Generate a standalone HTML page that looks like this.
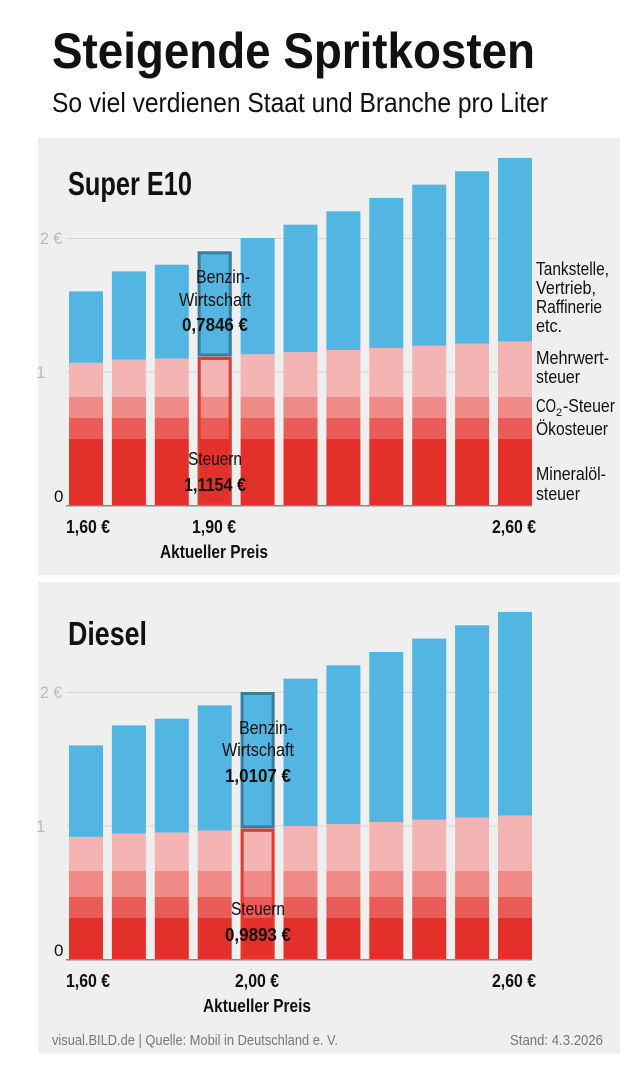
<!DOCTYPE html>
<html><head><meta charset="utf-8"><style>
html,body{margin:0;padding:0;background:#fff}
svg{display:block}
text{font-family:"Liberation Sans Narrow","Liberation Sans",sans-serif}
</style></head><body>
<svg id="s" width="639" height="1073" viewBox="0 0 639 1073" xmlns="http://www.w3.org/2000/svg">
<rect x="0" y="0" width="639" height="1073" fill="#fff"/>
<text x="52" y="68" font-size="50" font-weight="bold" textLength="483" lengthAdjust="spacingAndGlyphs" fill="#111">Steigende Spritkosten</text>
<text x="52" y="112" font-size="28" textLength="496" lengthAdjust="spacingAndGlyphs" fill="#111">So viel verdienen Staat und Branche pro Liter</text>
<rect x="38" y="138" width="582" height="437" fill="#efefef"/>
<rect x="38" y="582" width="582" height="471" fill="#efefef"/>
<g id="g1"></g><g id="g2"></g>
<text x="68" y="195" font-size="33" font-weight="bold" textLength="124" lengthAdjust="spacingAndGlyphs" fill="#111">Super E10</text>
<text x="68" y="645" font-size="33" font-weight="bold" textLength="79" lengthAdjust="spacingAndGlyphs" fill="#111">Diesel</text>
<g font-size="17" fill="#bbb">
<text x="40" y="244" textLength="22" lengthAdjust="spacingAndGlyphs">2 €</text>
<text x="36" y="378">1</text>
<text x="40" y="698" textLength="22" lengthAdjust="spacingAndGlyphs">2 €</text>
<text x="36" y="832">1</text>
</g>
<g font-size="17" fill="#111">
<text x="54" y="502">0</text>
<text x="54" y="956">0</text>
</g>
<g font-size="18" fill="#111" font-weight="bold" text-anchor="middle">
<text x="88" y="533" textLength="44" lengthAdjust="spacingAndGlyphs">1,60 €</text>
<text x="214" y="533" textLength="44" lengthAdjust="spacingAndGlyphs">1,90 €</text>
<text x="214" y="558" textLength="108" lengthAdjust="spacingAndGlyphs">Aktueller Preis</text>
<text x="514" y="533" textLength="44" lengthAdjust="spacingAndGlyphs">2,60 €</text>
<text x="88" y="987" textLength="44" lengthAdjust="spacingAndGlyphs">1,60 €</text>
<text x="257" y="987" textLength="44" lengthAdjust="spacingAndGlyphs">2,00 €</text>
<text x="257" y="1012" textLength="108" lengthAdjust="spacingAndGlyphs">Aktueller Preis</text>
<text x="514" y="987" textLength="44" lengthAdjust="spacingAndGlyphs">2,60 €</text>
</g>
<g font-size="18" fill="#111">
<text x="536" y="275" textLength="73" lengthAdjust="spacingAndGlyphs">Tankstelle,</text>
<text x="536" y="294" textLength="60" lengthAdjust="spacingAndGlyphs">Vertrieb,</text>
<text x="536" y="313" textLength="66" lengthAdjust="spacingAndGlyphs">Raffinerie</text>
<text x="536" y="332" textLength="26" lengthAdjust="spacingAndGlyphs">etc.</text>
<text x="536" y="364" textLength="73" lengthAdjust="spacingAndGlyphs">Mehrwert-</text>
<text x="536" y="383" textLength="44" lengthAdjust="spacingAndGlyphs">steuer</text>
<text x="536" y="412" textLength="20" lengthAdjust="spacingAndGlyphs">CO</text>
<text x="556" y="416" font-size="11">2</text>
<text x="563" y="412" textLength="52" lengthAdjust="spacingAndGlyphs">-Steuer</text>
<text x="536" y="435" textLength="72" lengthAdjust="spacingAndGlyphs">Ökosteuer</text>
<text x="536" y="480" textLength="70" lengthAdjust="spacingAndGlyphs">Mineralöl-</text>
<text x="536" y="500" textLength="44" lengthAdjust="spacingAndGlyphs">steuer</text>
</g>
<g font-size="18" fill="#111" text-anchor="middle">
<text x="223" y="283" textLength="54" lengthAdjust="spacingAndGlyphs">Benzin-</text>
<text x="215" y="306" textLength="72" lengthAdjust="spacingAndGlyphs">Wirtschaft</text>
<text x="215" y="331" font-weight="bold" textLength="66" lengthAdjust="spacingAndGlyphs">0,7846 €</text>
<text x="215" y="465" textLength="54" lengthAdjust="spacingAndGlyphs">Steuern</text>
<text x="215" y="491" font-weight="bold" textLength="62" lengthAdjust="spacingAndGlyphs">1,1154 €</text>
<text x="266" y="734" textLength="54" lengthAdjust="spacingAndGlyphs">Benzin-</text>
<text x="258" y="756" textLength="72" lengthAdjust="spacingAndGlyphs">Wirtschaft</text>
<text x="258" y="782" font-weight="bold" textLength="66" lengthAdjust="spacingAndGlyphs">1,0107 €</text>
<text x="258" y="915" textLength="54" lengthAdjust="spacingAndGlyphs">Steuern</text>
<text x="258" y="941" font-weight="bold" textLength="66" lengthAdjust="spacingAndGlyphs">0,9893 €</text>
</g>
<text x="52" y="1045" font-size="15" fill="#777" textLength="286" lengthAdjust="spacingAndGlyphs">visual.BILD.de | Quelle: Mobil in Deutschland e. V.</text>
<text x="603" y="1045" font-size="15" fill="#777" text-anchor="end" textLength="93" lengthAdjust="spacingAndGlyphs">Stand: 4.3.2026</text>
</svg>
<script>
var NS="http://www.w3.org/2000/svg";
function R(g,x,y,w,h,f,st){var r=document.createElementNS(NS,"rect");r.setAttribute("x",x);r.setAttribute("y",y);r.setAttribute("width",w);r.setAttribute("height",h);
if(st){r.setAttribute("fill","none");r.setAttribute("stroke",f);r.setAttribute("stroke-width",st);}else r.setAttribute("fill",f);g.appendChild(r);}
function chart(id,base,prices,cur,dm,dk,dc){
 var g=document.getElementById(id),u=133.5;
 R(g,66,base-2*u,466,1,"#d6d6d6");R(g,66,base-u,466,1,"#d6d6d6");
 var min=base-dm,oko=base-dk,co2=base-dc;
 for(var i=0;i<prices.length;i++){
  var p=prices[i],x=69+i*42.9,w=34,top=base-p*u,bl=co2-p*0.1597*u;
  R(g,x,top,w,bl-top,"#53b5e1");
  R(g,x,bl,w,co2-bl,"#f3b4b3");
  R(g,x,co2,w,oko-co2,"#ef8a86");
  R(g,x,oko,w,min-oko,"#ea5c57");
  R(g,x,min,w,base-min,"#e3302a");
  if(i==cur){R(g,x+1.5,top+1.5,w-3,bl-top-3,"#3a7d9c",3);R(g,x+1.5,bl+2,w-3,base-bl-3,"#e23a2e",3);}
 }
 R(g,66,base,466,1.5,"#888");
}
chart("g1",505,[1.6,1.75,1.8,1.9,2.0,2.1,2.2,2.3,2.4,2.5,2.6],3,66,87,108);
chart("g2",959,[1.6,1.75,1.8,1.9,2.0,2.1,2.2,2.3,2.4,2.5,2.6],4,41,62,88);
</script>
</body></html>
